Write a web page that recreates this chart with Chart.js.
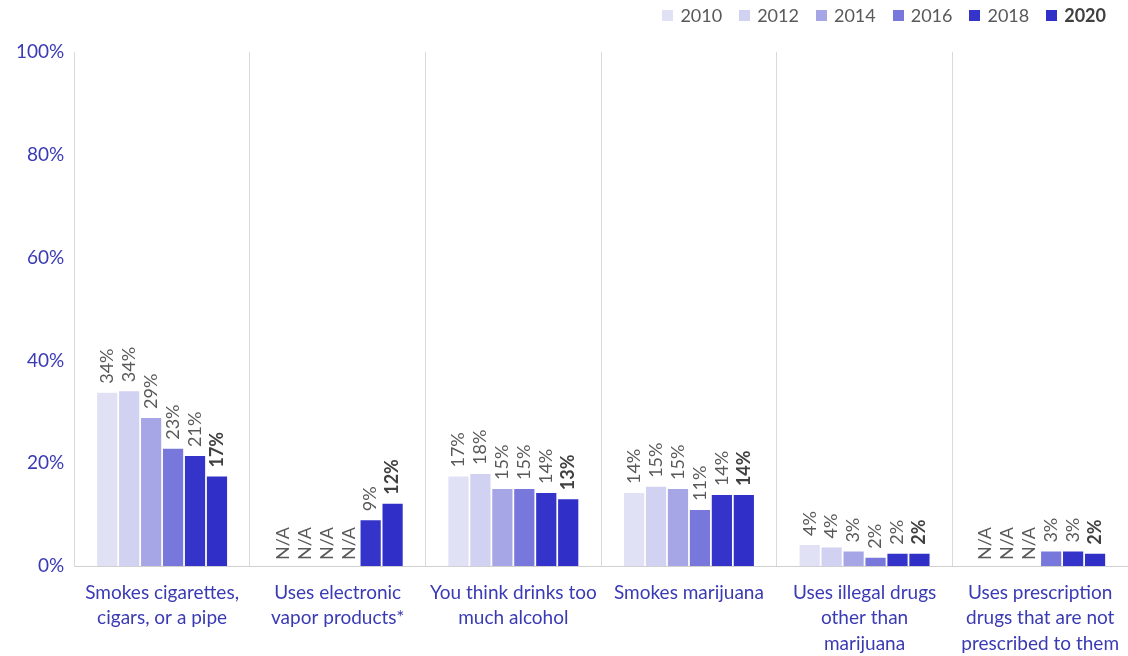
<!DOCTYPE html>
<html>
<head>
<meta charset="utf-8">
<script src="https://cdn.jsdelivr.net/npm/chart.js@4/dist/chart.umd.min.js"></script>
<style>
  body { margin: 0; background: #fff; }
  #wrap { position: relative; width: 1128px; height: 656px; }
  #legend { position: absolute; top: 4px; right: 22px; display: flex; font-family: Lato, sans-serif; font-size: 18px; color: #595959; }
  #legend .item { display: flex; align-items: center; margin-left: 17px; }
  #legend .box { width: 11px; height: 11px; margin-right: 7px; }
</style>
</head>
<body>
<div id="wrap">
  <canvas id="chart" width="1128" height="656"></canvas>
  <div id="legend"></div>
</div>
<script>
// categories (multi-line labels)
var categories = [
    ['Smokes cigarettes,', 'cigars, or a pipe'],
    ['Uses electronic', 'vapor products*'],
    ['You think drinks too', 'much alcohol'],
    ['Smokes marijuana'],
    ['Uses illegal drugs', 'other than', 'marijuana'],
    ['Uses prescription', 'drugs that are not', 'prescribed to them']
];
var years = ['2010', '2012', '2014', '2016', '2018', '2020'];
var colors = ['#e1e1f5', '#d1d1f1', '#a6a6e7', '#7878dc', '#3434cb', '#3030c8'];
// values in %, null = N/A
var v2010 = [33.7, null, 17.4, 14.2, 4.1, null];
var v2012 = [34.0, null, 17.9, 15.4, 3.6, null];
var v2014 = [28.8, null, 15.0, 15.0, 2.8, null];
var v2016 = [22.8, null, 15.0, 10.9, 1.6, 2.8];
var v2018 = [21.4, 8.9, 14.2, 13.8, 2.4, 2.8];
var v2020 = [17.4, 12.1, 13.0, 13.8, 2.4, 2.4];
var yTicks = [0, 20, 40, 60, 80, 100];

var series = [v2010, v2012, v2014, v2016, v2018, v2020];
var tickColor = '#3a3ab5';
var fontFam = 'Lato, sans-serif';

// legend (html so the last year can be bold)
var legend = document.getElementById('legend');
years.forEach(function(y, i) {
    var item = document.createElement('div');
    item.className = 'item';
    item.innerHTML = '<span class="box" style="background:' + colors[i] + '"></span><span' +
        (i == years.length - 1 ? ' style="font-weight:bold;color:#404040"' : '') + '>' + y + '</span>';
    legend.appendChild(item);
});

// rotated value labels above bars
var barLabels = {
    id: 'barLabels',
    afterDatasetsDraw: function(chart) {
        var ctx = chart.ctx;
        var yScale = chart.scales.y;
        chart.data.datasets.forEach(function(ds, di) {
            var meta = chart.getDatasetMeta(di);
            var last = di == chart.data.datasets.length - 1;
            meta.data.forEach(function(bar, i) {
                var v = ds.data[i];
                var txt, y;
                if (v === null) {
                    txt = 'N/A';
                    y = yScale.getPixelForValue(0) - 6;
                } else {
                    txt = Math.round(v) + '%';
                    y = yScale.getPixelForValue(v) - 9;
                }
                ctx.save();
                ctx.translate(bar.x, y);
                ctx.rotate(-Math.PI / 2);
                ctx.font = (last && v !== null ? 'bold ' : '') + '18px ' + fontFam;
                ctx.fillStyle = last && v !== null ? '#404040' : '#595959';
                ctx.textAlign = 'left';
                ctx.textBaseline = 'middle';
                ctx.fillText(txt, 0, 0);
                ctx.restore();
            });
        });
    }
};

var chart = new Chart(document.getElementById('chart'), {
    type: 'bar',
    data: {
        labels: categories,
        datasets: years.map(function(y, i) {
            return {
                label: y,
                data: series[i],
                backgroundColor: colors[i],
                categoryPercentage: 0.75,
                barPercentage: 0.92
            };
        })
    },
    options: {
        responsive: false,
        animation: false,
        layout: { padding: { top: 52, right: 0, left: 6, bottom: 0 } },
        plugins: {
            legend: { display: false },
            tooltip: { enabled: false }
        },
        scales: {
            x: {
                afterFit: function(axis) {
                    axis.height = 90;
                    axis.paddingRight = 0;
                },
                grid: {
                    offset: true,
                    drawTicks: false,
                    color: function(c) { return c.index == categories.length ? 'rgba(0,0,0,0)' : '#d9d9d9'; }
                },
                border: { color: '#d0d0d0' },
                ticks: {
                    color: tickColor,
                    font: { family: fontFam, size: 19, lineHeight: 1.34 },
                    padding: 14,
                    maxRotation: 0,
                    autoSkip: false
                }
            },
            y: {
                min: 0,
                max: 100,
                afterBuildTicks: function(axis) {
                    axis.ticks = yTicks.map(function(v) { return { value: v }; });
                },
                grid: { display: false, drawTicks: false },
                border: { display: true, color: '#d9d9d9' },
                ticks: {
                    color: tickColor,
                    font: { family: fontFam, size: 19 },
                    padding: 10,
                    callback: function(v) { return v + '%'; }
                }
            }
        }
    },
    plugins: [barLabels]
});
</script>
</body>
</html>
